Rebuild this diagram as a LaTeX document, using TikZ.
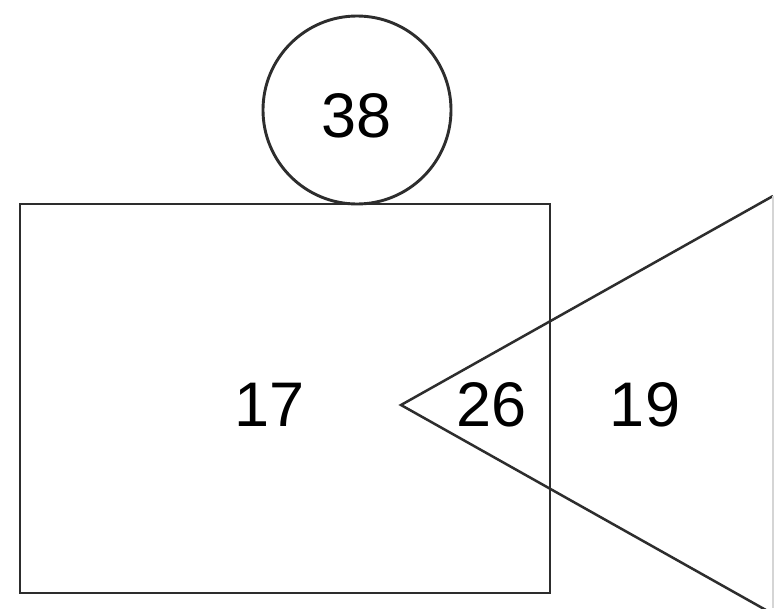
\documentclass[tikz,border=0pt]{standalone}
\usepackage{fontspec}
\setmainfont{Liberation Sans}
\definecolor{shapegray}{RGB}{45,45,45}
\usetikzlibrary{positioning}

\begin{document}
\begin{tikzpicture}[x=1pt, y=-1pt, line width=2.9pt,
    num/.style={font=\fontsize{63}{75}\selectfont, inner sep=0pt}]
        \useasboundingbox (0,0) rectangle (775,608);
        \fill[white] (0,0) rectangle (775,608);
        \draw[draw=shapegray] (357,110) circle (94);
        \draw[draw=shapegray] (20,204) rectangle (550,593);
        \draw[draw=shapegray, line width=2.5pt] (773,196) -- (401,405) -- (773,614);
        \draw[draw=shapegray!20, line width=1.5pt] (773,196) -- (773,608);
        \node[num] (c38) at (357,116) {38};
        \node[num] (r17) at (270,405) {17};
        \node[num] (t26) at (492,405) {26};
        \node[num] (o19) at (645,405) {19};
      \end{tikzpicture}
\end{document}
